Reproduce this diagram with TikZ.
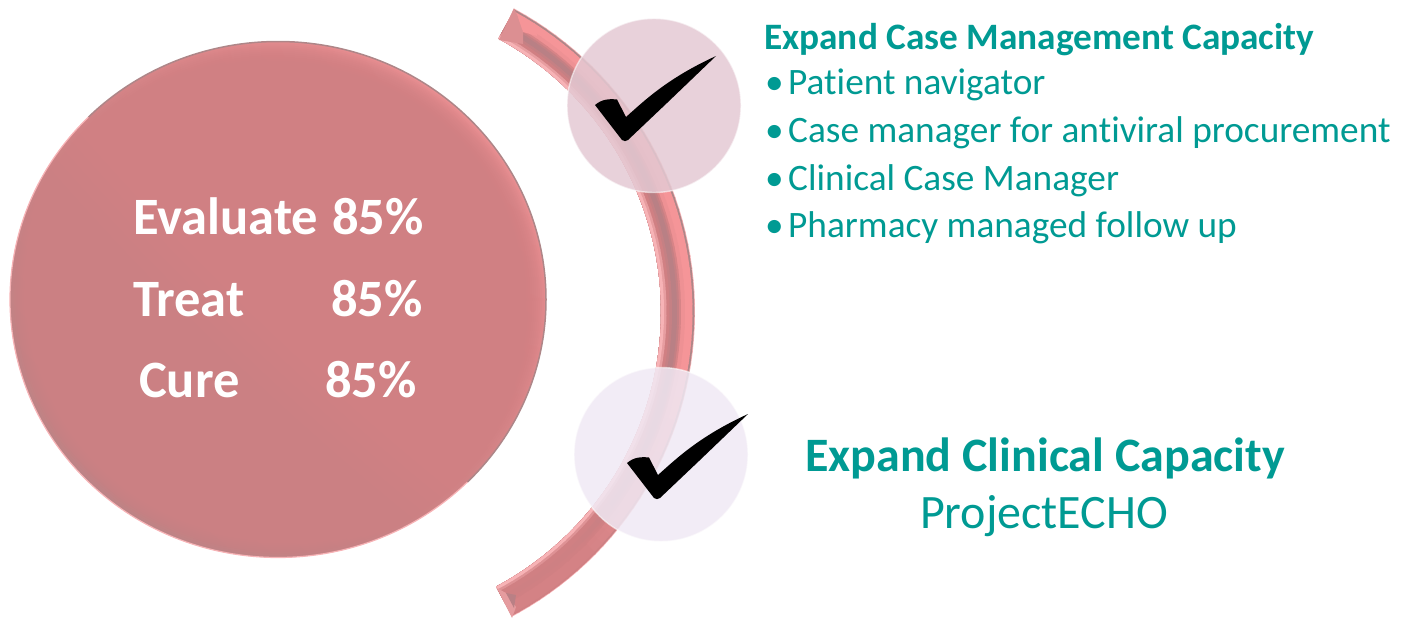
\documentclass[tikz,border=0pt]{standalone}
\usepackage{fontspec}
\setmainfont{Carlito}[Ligatures=NoCommon]
\usetikzlibrary{shadings}
\definecolor{teal1}{HTML}{009A93}
\definecolor{rose}{HTML}{D08083}
\definecolor{roseedge}{HTML}{F7B3B6}
\definecolor{rosegray}{HTML}{AE8688}
\definecolor{darkband}{HTML}{B98085}
\definecolor{salmon}{HTML}{F59598}
\definecolor{lensa}{HTML}{E4C9D3}
\definecolor{lensb}{HTML}{F0E9F4}
\tikzset{
  big/.style={font=\bfseries\fontsize{52.5}{52.5}\selectfont,text=white,anchor=base west,inner sep=0},
  head/.style={font=\bfseries\fontsize{37.3}{37.3}\selectfont,text=teal1,anchor=base west,inner sep=0},
  item/.style={font=\fontsize{37.3}{37.3}\selectfont,text=teal1,anchor=base west,inner sep=0},
  bigcap/.style={font=\bfseries\fontsize{48}{48}\selectfont,text=teal1,inner sep=0,anchor=base},
  subcap/.style={font=\fontsize{48}{48}\selectfont,text=teal1,inner sep=0,anchor=base},
  lens/.style={circle,minimum size=174pt,inner sep=0,fill opacity=.85,draw=white,draw opacity=.55,line width=1.4pt},
  tick/.style={fill=black,draw=none}
}
\newcommand{\band}[5]{\fill[#5] ({350+#3*cos(#1)},{312+#3*sin(#1)}) arc[start angle=#1,end angle=#2,radius=#3]
  -- ({350+#4*cos(#2)},{312+#4*sin(#2)}) arc[start angle=#2,end angle=#1,radius=#4] -- cycle;}
% one radial layer of the arc band: #1 outer radius, #2 colour in the upper part, #3 colour at the lower end
\newcommand{\layer}[3]{\foreach \a in {-61.5,-59.5,...,60.5} {
  \pgfmathsetmacro{\e}{min(\a+2.3,62)}
  \pgfmathsetmacro{\t}{\a<12 ? 100 : (\a>45 ? 0 : 100*(45-\a)/33)}
  \band{\a}{\e}{#1}{311}{#2!\t!#3}
}}
\newcommand{\tickmark}{\fill[tick] (716,56) .. controls (668,78) and (645,100) .. (626,117)
  -- (617,99.5) .. controls (610,98.5) and (602,99) .. (595,105)
  -- (622,140) .. controls (624,141.5) and (626,141.5) .. (628,140)
  -- (667,103) -- (716,56) -- cycle;}
\begin{document}
\begin{tikzpicture}[x=1pt,y=-1pt]
\useasboundingbox (0,0) rectangle (1403,618);
% large disc
\shade[lower left=rosegray!85!rose,upper right=salmon,lower right=rose,upper left=rose]
  (278,299.5) ellipse[x radius=268,y radius=258];
\foreach \d in {2,4,...,40}
  \fill[rose,opacity=.17] (278,299.5) ellipse[x radius={268-\d},y radius={258-\d}];
\draw[roseedge,line width=1.2pt] (278,299.5) ++({268*cos(45)},{258*sin(45)})
  arc[start angle=45,end angle=225,x radius=268,y radius=258];
\draw[rosegray,line width=1.5pt] (278,299.5) ++({268*cos(-135)},{258*sin(-135)})
  arc[start angle=-135,end angle=45,x radius=268,y radius=258];
% arc band
\layer{345}{roseedge}{roseedge}
\layer{344.3}{rosegray}{rose}
\layer{342.5}{salmon}{rose!90!salmon}
\layer{335}{salmon!80!rose}{rose!90!salmon}
\layer{331}{rose!80!salmon}{rose}
\layer{329}{rose!50!darkband}{rose}
\layer{327}{darkband}{rose!90!darkband}
\layer{322}{rose!50!darkband}{rose}
\layer{319.5}{rose}{rose}
\layer{316.5}{rose!65!roseedge}{rose!65!roseedge}
\layer{314}{roseedge}{roseedge}
% bevelled end caps
\fill[rose!70!roseedge] (514,8) -- (499,40) -- (523,44) -- (523,32) -- (518,17) -- cycle;
\fill[salmon] (518,17) -- (523,32) -- (537,36) -- (536,26) -- cycle;
\fill[rose!45!roseedge] (497,588) -- (512,618) -- (516,607) -- (506,593) -- cycle;
\fill[darkband] (506,593) -- (516,595) -- (514,608) -- cycle;
% lenses
\node[lens,fill=lensa] (lens1) at (654,105.5) {};
\node[lens,fill=lensb] (lens2) at (661,454.5) {};
\tickmark
\begin{scope}[shift={(32,358)}]\tickmark\end{scope}
% disc text
\node[big] (t1) at (133,234) {Evaluate};
\node[big] (p1) at (332,234) {85\%};
\node[big] (t2) at (133,316) {Treat};
\node[big] (p2) at (331,316) {85\%};
\node[big] (t3) at (139,397) {Cure};
\node[big] (p3) at (325,397) {85\%};
% right text
\node[head] (h1) at (764,49) {Expand Case Management Capacity};
\node[item] (b1) at (765,94) {•};
\node[item] (i1) at (788,94) {Patient navigator};
\node[item] (b2) at (765,142) {•};
\node[item] (i2) at (788,142) {Case manager for antiviral procurement};
\node[item] (b3) at (765,190) {•};
\node[item] (i3) at (788,190) {Clinical Case Manager};
\node[item] (b4) at (765,237) {•};
\node[item] (i4) at (788,237) {Pharmacy managed follow up};
\node[bigcap] (h2) at (1045,471) {Expand Clinical Capacity};
\node[subcap] (i5) at (1044,528) {ProjectECHO};
\end{tikzpicture}
\end{document}
